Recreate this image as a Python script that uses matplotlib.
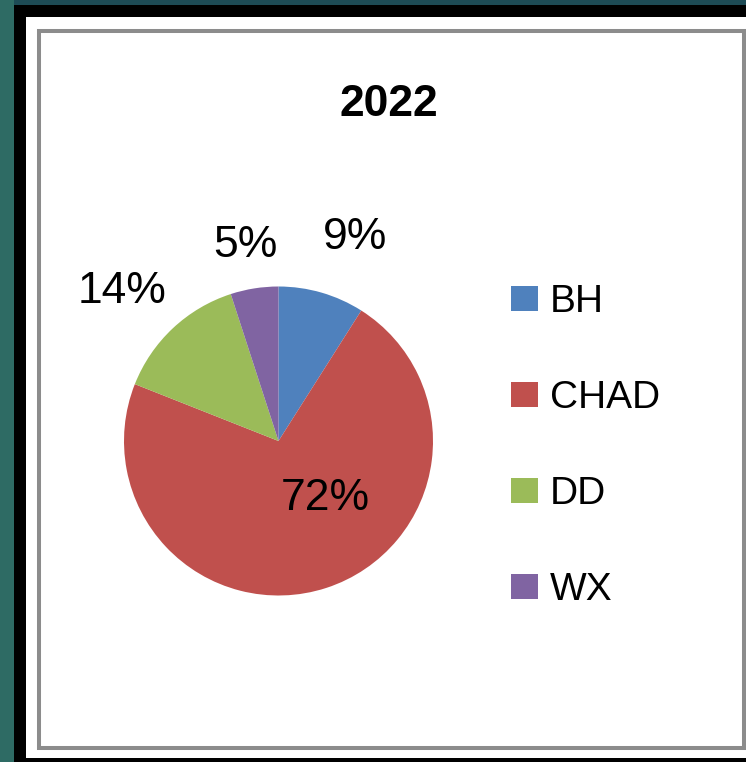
import matplotlib
matplotlib.use("Agg")
import matplotlib.pyplot as plt
from matplotlib.patches import Rectangle, Patch
import numpy as np

#%% data
title = "2022"
categories = ["BH", "CHAD", "DD", "WX"]
shares = [9, 72, 14, 5]
colors = ["#4F81BD", "#C0504D", "#9BBB59", "#8064A2"]

W, H = 746, 762
plt.rcParams['font.family'] = ['Liberation Sans', 'DejaVu Sans']

fig = plt.figure(figsize=(W / 100, H / 100), dpi=100)
fig.patch.set_facecolor("#2E6B64")


def px_rect(x0, y0, x1, y1, **kw):
    # rectangle given in pixel coords (origin top-left)
    return Rectangle((x0 / W, 1 - y1 / H), (x1 - x0) / W, (y1 - y0) / H,
                     transform=fig.transFigure, zorder=-10, **kw)


# dark band on top, black frame, white sheet, gray border
fig.patches.append(px_rect(14, 0, W, 5, facecolor="#1D4B55", edgecolor="none"))
fig.patches.append(px_rect(14, 5, W, H, facecolor="black", edgecolor="none"))
fig.patches.append(px_rect(26, 17, W, 758, facecolor="white", edgecolor="none"))
fig.patches.append(px_rect(39, 30.5, 744, 747.5, facecolor="none",
                           edgecolor="#8C8C8C", linewidth=2.9))

#%% pie
cx, cy, r = 278.5, 441, 154.5
ax = fig.add_axes([(cx - r) / W, 1 - (cy + r) / H, 2 * r / W, 2 * r / H])
ax.set_zorder(1)
wedges, _ = ax.pie(shares, colors=colors, startangle=90, counterclock=False,
                   radius=1, wedgeprops=dict(linewidth=0))
ax.set_xlim(-1, 1)
ax.set_ylim(-1, 1)
ax.axis("off")

# label placement: distance from centre and angle nudge per wedge
label_dist = [1.41, 0.48, 1.40, 1.28]
label_nudge = [-4.5, 21, 3, 0.5]
for w, v, d, n in zip(wedges, shares, label_dist, label_nudge):
    ang = np.deg2rad((w.theta1 + w.theta2) / 2 + n)
    ax.text(d * np.cos(ang), d * np.sin(ang), f"{v}%", ha="center",
            va="center", fontsize=32, color="black", clip_on=False)

fig.text(389 / W, 1 - 105 / H, title, ha="center", va="center",
         fontsize=32, fontweight="bold", color="black")

#%% legend
handles = [Patch(facecolor=c, edgecolor="none") for c in colors]
leg = fig.legend(handles, categories, loc="upper left",
                 bbox_to_anchor=(511 / W, 1 - 284 / H), frameon=False,
                 fontsize=28, handlelength=0.69, handleheight=0.62,
                 handletextpad=0.3, labelspacing=1.545, borderpad=0,
                 borderaxespad=0)
leg.set_zorder(2)

fig.savefig("out.png", dpi=100, facecolor=fig.get_facecolor())
